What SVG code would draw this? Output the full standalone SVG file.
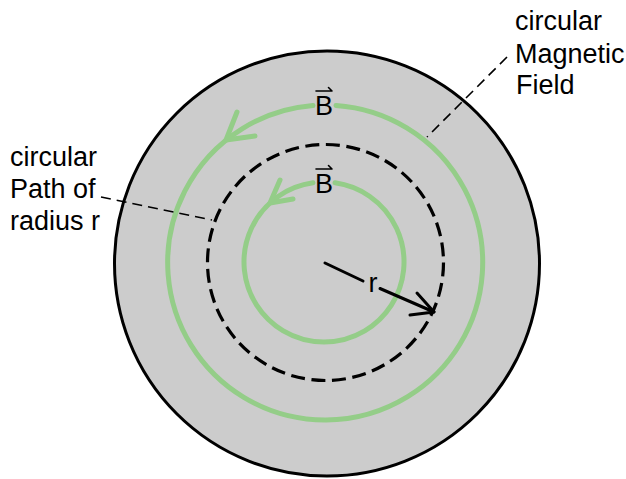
<svg xmlns="http://www.w3.org/2000/svg" width="626" height="479" viewBox="0 0 626 479">
<style>
.lbl{font-family:"Liberation Sans",Arial,Helvetica,sans-serif;font-size:27px;fill:#000}
.green{fill:none;stroke:#94cd88;stroke-width:5;stroke-linecap:round;stroke-linejoin:round}
.leader{fill:none;stroke:#000;stroke-width:1.6;stroke-dasharray:10 6}
.blk{fill:none;stroke:#000;stroke-width:3;stroke-linecap:round;stroke-linejoin:round}
.vec{fill:none;stroke:#000;stroke-width:1.6;stroke-linecap:round}
</style>
<rect width="626" height="479" fill="#ffffff"/>
<g id="disk">
<circle cx="327" cy="263.5" r="212.5" fill="#cccccc" stroke="#000" stroke-width="3"/>
</g>
<g id="path-r">
<circle cx="325.5" cy="262.5" r="118" fill="none" stroke="#000" stroke-width="3.2" stroke-dasharray="14 6.6"/>
</g>
<g id="field-outer">
<path class="green" d="M336,105.4 A157.5,157.5 0 1 1 313,105.5"/>
<path class="green" d="M237,112 L226,140 L255,136"/>
</g>
<g id="field-inner">
<path class="green" d="M335,182.8 A80,80 0 1 1 313,182.8"/>
<path class="green" d="M280,180 L270,203 L293,199"/>
</g>
<g id="label-B-outer">
<text class="lbl" x="324" y="115" text-anchor="middle">B</text>
<path class="vec" d="M316,91 L332,91 M328.5,87.5 L332,91"/>
</g>
<g id="label-B-inner">
<text class="lbl" x="324" y="193" text-anchor="middle">B</text>
<path class="vec" d="M316,169 L332,169 M328.5,165.5 L332,169"/>
</g>
<g id="radius">
<text class="lbl" x="373" y="292" text-anchor="middle">r</text>
</g>
<g id="label-path">
<text class="lbl" x="10" y="166">circular</text>
<text class="lbl" x="10" y="198">Path of</text>
<text class="lbl" x="10" y="230">radius r</text>
</g>
<g id="label-field">
<text class="lbl" x="515" y="30">circular</text>
<text class="lbl" x="515" y="63">Magnetic</text>
<text class="lbl" x="516" y="94">Field</text>
</g>
<g id="connectors">
<path class="blk" d="M325,263 L363,281"/>
<path class="blk" d="M380,288.5 L434,312"/>
<path class="blk" d="M417,293 L434,312 L410,315"/>
<path class="leader" d="M101,197 L212,220"/>
<path class="leader" d="M507,57 L427,137"/>
</g>
</svg>
